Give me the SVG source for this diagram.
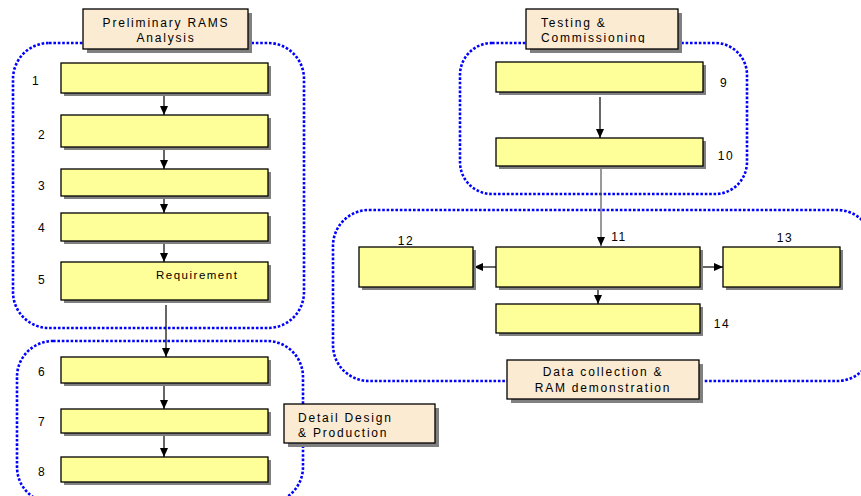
<svg xmlns="http://www.w3.org/2000/svg" width="861" height="496" viewBox="0 0 861 496">
<defs>
<style>
.region{fill:none;stroke:#0000ff;stroke-width:2.6;stroke-dasharray:2.6 1.8}
.box{fill:#ffff99;stroke:#000;stroke-width:1.3}
.lbl{fill:#faebd2;stroke:#000;stroke-width:1.3}
.sh{fill:#808080}
.t{font-family:"Liberation Sans",Arial,sans-serif;font-size:12px;letter-spacing:1.8px;fill:#000}
.n{font-family:"Liberation Sans",Arial,sans-serif;font-size:12px;letter-spacing:1.5px;fill:#000;text-anchor:middle}
.c{stroke:#000;stroke-width:1.2;fill:none;marker-end:url(#ah)}
</style>
<marker id="ah" markerUnits="userSpaceOnUse" markerWidth="10" markerHeight="8" refX="9" refY="4" orient="auto">
<path d="M0,0 L9,4 L0,8 z" fill="#000"/>
</marker>
<clipPath id="clipTC"><rect x="526" y="9" width="152" height="34"/></clipPath>
</defs>
<rect width="861" height="496" fill="#fff"/>

<g id="regions">
<rect class="region" x="13" y="43" width="291" height="285" rx="36" ry="36"/>
<rect class="region" x="17" y="341" width="286" height="162" rx="36" ry="36"/>
<rect class="region" x="460" y="43" width="287" height="151" rx="32" ry="32"/>
<rect class="region" x="333" y="210" width="540" height="171" rx="36" ry="36"/>
</g>

<g id="connectors">
<line class="c" x1="164" y1="93" x2="164" y2="115"/>
<line class="c" x1="164" y1="147" x2="164" y2="169"/>
<line class="c" x1="164" y1="196" x2="164" y2="213"/>
<line class="c" x1="164" y1="241" x2="164" y2="262"/>
<line class="c" x1="166" y1="305" x2="166" y2="357"/>
<line class="c" x1="164" y1="383" x2="164" y2="409"/>
<line class="c" x1="164" y1="433" x2="164" y2="457"/>
<line class="c" x1="600" y1="97" x2="600" y2="138"/>
<line class="c" x1="601" y1="168" x2="601" y2="246" style="stroke:#555"/>
<line class="c" x1="496" y1="267" x2="474" y2="267"/>
<line class="c" x1="700" y1="267" x2="723" y2="267"/>
<line class="c" x1="598" y1="287" x2="598" y2="304"/>
</g>

<g id="lbl-prelim">
<rect class="sh" x="87" y="13" width="165" height="40"/>
<rect class="lbl" x="83" y="9" width="165" height="40"/>
<text class="t" x="166" y="27" text-anchor="middle">Preliminary RAMS</text>
<text class="t" x="166" y="42" text-anchor="middle">Analysis</text>
</g>

<g id="lbl-testing">
<rect class="sh" x="530" y="13" width="152" height="40"/>
<rect class="lbl" x="526" y="9" width="152" height="40"/>
<text class="t" x="541" y="27">Testing &amp;</text>
<text class="t" x="541" y="42" clip-path="url(#clipTC)">Commissioning</text>
</g>

<g id="lbl-detail">
<rect class="sh" x="288" y="408" width="151" height="39"/>
<rect class="lbl" x="284" y="404" width="151" height="39"/>
<text class="t" x="298" y="422">Detail Design</text>
<text class="t" x="298" y="437">&amp; Production</text>
</g>

<g id="lbl-data">
<rect class="sh" x="511" y="364" width="192" height="39"/>
<rect class="lbl" x="507" y="360" width="192" height="39"/>
<text class="t" x="603" y="376" text-anchor="middle">Data collection &amp;</text>
<text class="t" x="603" y="392" text-anchor="middle">RAM demonstration</text>
</g>

<g id="node1"><rect class="sh" x="64" y="66" width="207" height="30"/><rect class="box" x="61" y="63" width="207" height="30"/><text class="n" x="36" y="85">1</text></g>
<g id="node2"><rect class="sh" x="64" y="118" width="207" height="32"/><rect class="box" x="61" y="115" width="207" height="32"/><text class="n" x="42" y="139">2</text></g>
<g id="node3"><rect class="sh" x="64" y="172" width="207" height="27"/><rect class="box" x="61" y="169" width="207" height="27"/><text class="n" x="42" y="190">3</text></g>
<g id="node4"><rect class="sh" x="64" y="216" width="207" height="28"/><rect class="box" x="61" y="213" width="207" height="28"/><text class="n" x="42" y="232">4</text></g>
<g id="node5"><rect class="sh" x="64" y="265" width="207" height="38"/><rect class="box" x="61" y="262" width="207" height="38"/><text class="n" x="42" y="284">5</text>
<text class="t" x="156" y="279" style="font-size:11.5px;letter-spacing:1.5px">Requirement</text></g>
<g id="node6"><rect class="sh" x="64" y="360" width="207" height="26"/><rect class="box" x="61" y="357" width="207" height="26"/><text class="n" x="42" y="376">6</text></g>
<g id="node7"><rect class="sh" x="64" y="412" width="207" height="24"/><rect class="box" x="61" y="409" width="207" height="24"/><text class="n" x="42" y="426">7</text></g>
<g id="node8"><rect class="sh" x="64" y="460" width="207" height="25"/><rect class="box" x="61" y="457" width="207" height="25"/><text class="n" x="42" y="476">8</text></g>

<g id="node9"><rect class="sh" x="499" y="65" width="207" height="30"/><rect class="box" x="496" y="62" width="207" height="30"/><text class="n" x="724" y="87">9</text></g>
<g id="node10"><rect class="sh" x="499" y="141" width="207" height="28"/><rect class="box" x="496" y="138" width="207" height="28"/><text class="n" x="726" y="160">10</text></g>
<g id="node11"><rect class="sh" x="499" y="250" width="204" height="40"/><rect class="box" x="496" y="247" width="204" height="40"/><text class="n" x="619" y="241">11</text></g>
<g id="node12"><rect class="sh" x="362" y="250" width="114" height="40"/><rect class="box" x="359" y="247" width="114" height="40"/><text class="n" x="406" y="245">12</text></g>
<g id="node13"><rect class="sh" x="726" y="250" width="117" height="40"/><rect class="box" x="723" y="247" width="117" height="40"/><text class="n" x="785" y="242">13</text></g>
<g id="node14"><rect class="sh" x="499" y="307" width="204" height="29"/><rect class="box" x="496" y="304" width="204" height="29"/><text class="n" x="722" y="328">14</text></g>
</svg>
